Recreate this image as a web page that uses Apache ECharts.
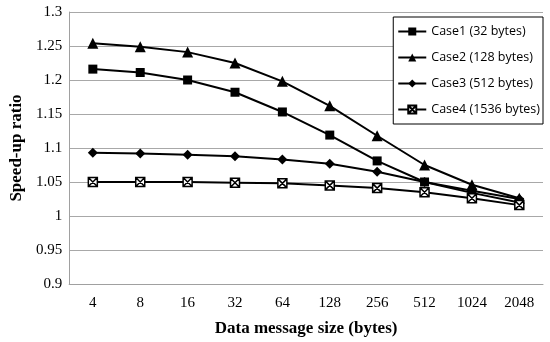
<!DOCTYPE html>
<html><head><meta charset="utf-8">
<script src="https://cdn.jsdelivr.net/npm/echarts@6/dist/echarts.min.js"></script>
<style>html,body{margin:0;padding:0;background:#fff}#c{width:550px;height:342px}</style>
</head><body><div id="c"></div>
<script>
var categories = ['4','8','16','32','64','128','256','512','1024','2048'];
var case1 = [1.216,1.211,1.200,1.182,1.153,1.119,1.081,1.050,1.034,1.020];
var case2 = [1.254,1.249,1.241,1.225,1.198,1.162,1.118,1.075,1.046,1.026];
var case3 = [1.093,1.092,1.090,1.088,1.083,1.077,1.065,1.050,1.037,1.025];
var case4 = [1.050,1.050,1.050,1.049,1.048,1.045,1.041,1.035,1.026,1.016];
var names = ['Case1 (32 bytes)','Case2 (128 bytes)','Case3 (512 bytes)','Case4 (1536 bytes)'];

var chart = echarts.init(document.getElementById('c'), null, {renderer:'canvas'});
function s(name, data, symbol, size, fill){
  return {name:name, type:'line', data:data, symbol:symbol, symbolSize:size,
    lineStyle:{color:'#000', width:2}, itemStyle:{color:fill, borderColor:'#000', borderWidth: fill==='#fff'?1.5:0},
    emphasis:{disabled:true}, animation:false};
}
chart.setOption({
  animation:false,
  grid:{left:61, right:7, top:12, bottom:52},
  legend:{
    right:7, top:17, orient:'vertical', itemWidth:28, itemHeight:10, itemGap:13,
    borderColor:'#000', borderWidth:1, padding:[8,3,8,4], backgroundColor:'#fff',
    textStyle:{fontFamily:'Open Sans', fontSize:12.5, color:'#000'},
    data:names
  },
  xAxis:{
    type:'category', data:categories, boundaryGap:true,
    name:'Data message size (bytes)', nameLocation:'middle', nameGap:36,
    nameTextStyle:{fontFamily:'Liberation Serif', fontWeight:'bold', fontSize:17, color:'#000'},
    axisLine:{lineStyle:{color:'#a0a0a0', width:1}},
    axisTick:{alignWithLabel:true, length:5, lineStyle:{color:'#a0a0a0'}},
    axisLabel:{fontFamily:'Liberation Serif', fontSize:15, color:'#000', margin:12},
    splitLine:{show:false}
  },
  yAxis:{
    type:'value', min:0.9, max:1.3, interval:0.05,
    name:'Speed-up ratio', nameLocation:'middle', nameGap:41,
    nameTextStyle:{fontFamily:'Liberation Serif', fontWeight:'bold', fontSize:17, color:'#000'},
    axisLine:{show:true, lineStyle:{color:'#a0a0a0', width:1}},
    axisTick:{show:false},
    axisLabel:{fontFamily:'Liberation Serif', fontSize:15, color:'#000', margin:7,
      formatter:function(v){return String(parseFloat(v.toFixed(2)));}},
    splitLine:{lineStyle:{color:'#a8a8a8', width:1}}
  },
  series:[
    s(names[0], case1, 'rect', 9, '#000'),
    s(names[1], case2, 'triangle', 11, '#000'),
    s(names[2], case3, 'diamond', 10, '#000'),
    s(names[3], case4, 'path://M0,0L10,0L10,10L0,10Z M0,0L10,10 M10,0L0,10', 9, '#fff')
  ]
});
</script></body></html>
